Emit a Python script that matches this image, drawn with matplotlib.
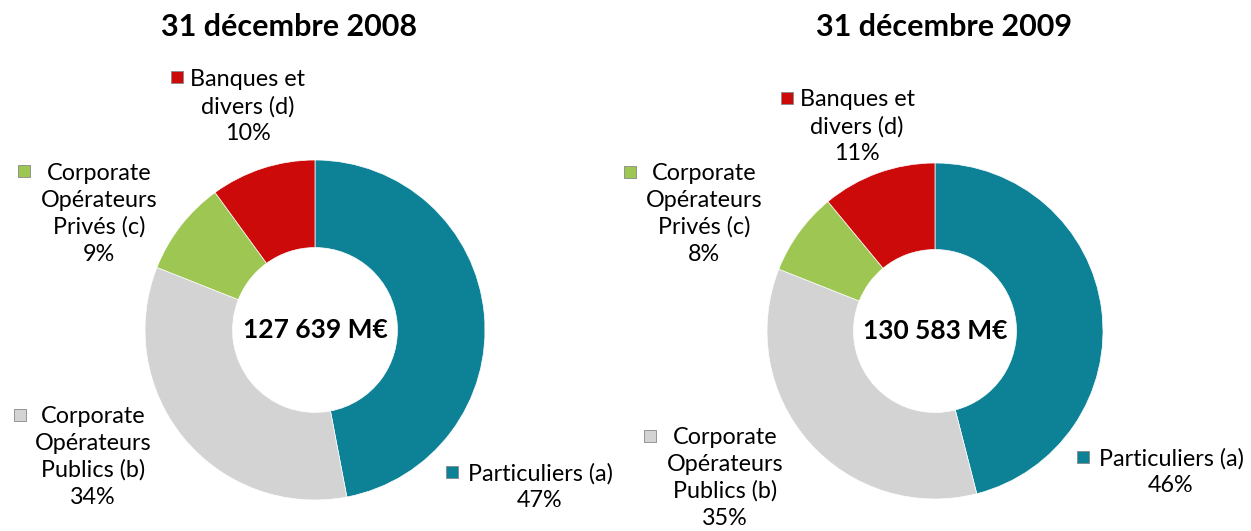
import matplotlib.pyplot as plt

# Données
categories = ['Particuliers (a)', 'Corporate\nOpérateurs\nPublics (b)',
              'Corporate\nOpérateurs\nPrivés (c)', 'Banques et\ndivers (d)']
parts_2008 = [47, 34, 9, 10]
parts_2009 = [46, 35, 8, 11]
totaux = ['127 639 M€', '130 583 M€']
titres = ['31 décembre 2008', '31 décembre 2009']
couleurs = ['#0D8196', '#D3D3D3', '#9DC653', '#CC0A0A']

plt.rcParams['font.family'] = ['Lato', 'DejaVu Sans']

W, H = 1251, 531
fig = plt.figure(figsize=(W / 100, H / 100), dpi=100)
ax = fig.add_axes([0, 0, 1, 1])


def y(p):
    # coordonnée verticale mesurée depuis le haut de l'image
    return H - p


# positions (centre du donut, titre, étiquettes) en pixels
mises_en_page = [
    {
        'centre': (315, 330), 'rayon': 170, 'titre': (289, 27),
        'labels': [(540, 472), (93, 415), (99, 172), (248, 78)],
        'marques': [(452, 472), (20, 415), (24, 171), (177, 77)],
    },
    {
        'centre': (935, 331), 'rayon': 168, 'titre': (944, 27),
        'labels': [(1171, 457), (725, 436), (704, 172), (857, 98)],
        'marques': [(1083, 457), (650, 436), (630, 172), (787, 98)],
    },
]

for parts, total, titre, mp in zip([parts_2008, parts_2009], totaux, titres, mises_en_page):
    cx, cy = mp['centre']
    r = mp['rayon']
    ax.pie(parts, colors=couleurs, startangle=90, counterclock=False,
           center=(cx, y(cy)), radius=r,
           wedgeprops=dict(width=r * 0.515, edgecolor='white', linewidth=0.5))
    ax.text(cx, y(cy), total, ha='center', va='center', fontsize=19,
            fontweight='bold', color='black')
    tx, ty = mp['titre']
    ax.text(tx, y(ty), titre, ha='center', va='center', fontsize=22,
            fontweight='bold', color='black')
    for cat, val, coul, (lx, ly), (mx, my) in zip(categories, parts, couleurs,
                                                  mp['labels'], mp['marques']):
        txt = cat + '\n' + f'{val}%'
        ax.text(lx, y(ly - 9), txt, ha='center', va='top', fontsize=16.8,
                linespacing=1.33, multialignment='center', color='black')
        ax.scatter([mx], [y(my)], marker='s', s=85, color=coul,
                   edgecolors='#888888', linewidths=0.6, zorder=5)

ax.set_xlim(0, W)
ax.set_ylim(0, H)
ax.set_aspect('equal')
ax.axis('off')

fig.savefig('out.png', dpi=100)
